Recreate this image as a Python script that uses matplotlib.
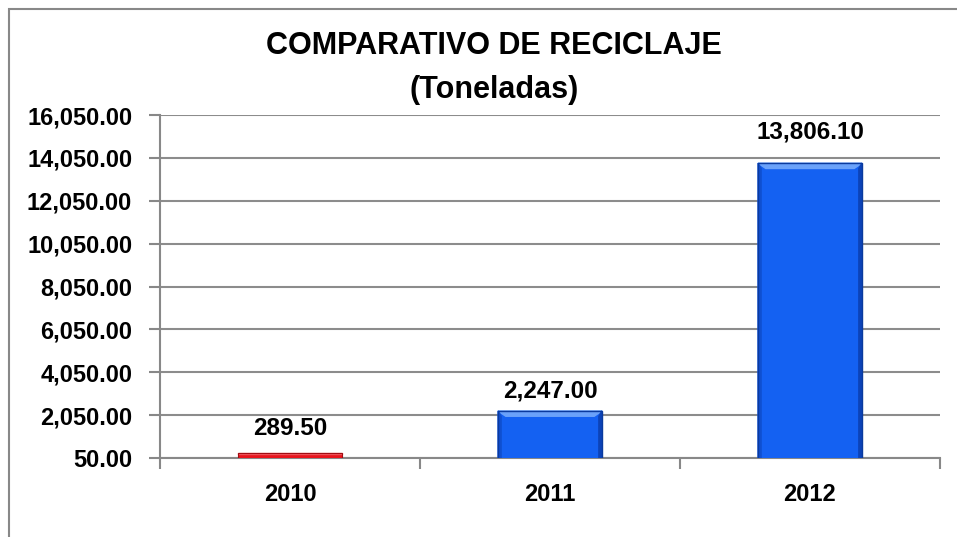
import matplotlib.pyplot as plt
from matplotlib.patches import Polygon, Rectangle

plt.rcParams['font.family'] = ['Liberation Sans Narrow', 'Liberation Sans', 'DejaVu Sans']
plt.rcParams['font.weight'] = 'bold'

years = ['2010', '2011', '2012']
toneladas = [289.50, 2247.00, 13806.10]
etiquetas = ['289.50', '2,247.00', '13,806.10']
colores = ['#e8141c', '#1461f2', '#1461f2']
yticks = [50, 2050, 4050, 6050, 8050, 10050, 12050, 14050, 16050]

fig = plt.figure(figsize=(9.57, 5.37), dpi=100)
ax = fig.add_axes([0.1672, 0.1471, 0.815, 0.6387])

# marco del grafico
fig.patches.append(Rectangle((9 / 957, -0.2), 1.2, 1 - 9 / 537 + 0.2, transform=fig.transFigure,
                             fill=False, edgecolor='#888888', linewidth=1.5))

x = range(len(years))
barras = ax.bar(x, toneladas, width=0.4, color=colores, edgecolor='none', zorder=3)

# efecto biselado
bx = 0.03
by = 250
for b, c in zip(barras, colores):
    x0, w, h = b.get_x(), b.get_width(), b.get_height()
    if c == '#e8141c':
        ax.add_patch(Rectangle((x0, h - 60), w, 60, color='#f0545a', zorder=4))
        ax.add_patch(Rectangle((x0, 0), w, h, fill=False, edgecolor='#a00d12', linewidth=0.8, zorder=5))
        continue
    ax.add_patch(Polygon([(x0, h), (x0 + w, h), (x0 + w - bx, h - by), (x0 + bx, h - by)],
                         closed=True, color='#6aa2fa', zorder=4))
    ax.add_patch(Polygon([(x0, 50), (x0, h), (x0 + bx * 0.4, h - by), (x0 + bx * 0.4, 50)],
                         closed=True, color='#0f4fd0', zorder=4))
    ax.add_patch(Polygon([(x0 + w, 50), (x0 + w, h), (x0 + w - bx * 0.4, h - by), (x0 + w - bx * 0.4, 50)],
                         closed=True, color='#0c43b8', zorder=4))
    ax.add_patch(Rectangle((x0, 0), w, h, fill=False, edgecolor='#0a3a9e', linewidth=1, zorder=5))

# separacion de cada etiqueta sobre su barra (pixeles)
sep = [13, 8, 20]
for b, t, s in zip(barras, etiquetas, sep):
    ax.annotate(t, (b.get_x() + b.get_width() / 2, b.get_height()), xytext=(0, s * 0.72),
                textcoords='offset points', ha='center', va='bottom', fontsize=17.5, fontweight='bold')

ax.set_xlim(-0.5, 2.5)
ax.set_ylim(50, 16050)
ax.set_yticks(yticks)
ax.set_yticklabels([f'{v:,.2f}' for v in yticks], fontsize=17, fontweight='bold')
ax.set_xticks(list(x))
ax.set_xticklabels(years, fontsize=17, fontweight='bold')
ax.set_xticks([-0.5, 0.5, 1.5, 2.5], minor=True)
ax.tick_params(axis='x', which='major', length=0, pad=18)
ax.tick_params(axis='x', which='minor', length=8, width=1.5, color='#888888')
ax.tick_params(axis='y', length=8, width=1.5, color='#888888', pad=12)

ax.grid(axis='y', color='#8c8c8c', linewidth=1.5, zorder=0)
ax.set_axisbelow(True)
for s in ['top', 'right']:
    ax.spines[s].set_visible(False)
for s in ['left', 'bottom']:
    ax.spines[s].set_color('#888888')
    ax.spines[s].set_linewidth(1.5)

fig.text(494 / 957, 1 - 46 / 537, 'COMPARATIVO DE RECICLAJE', ha='center', va='center',
         fontsize=22, fontweight='bold')
fig.text(494 / 957, 1 - 90 / 537, '(Toneladas)', ha='center', va='center',
         fontsize=22, fontweight='bold')

fig.savefig('out.png', dpi=100)
